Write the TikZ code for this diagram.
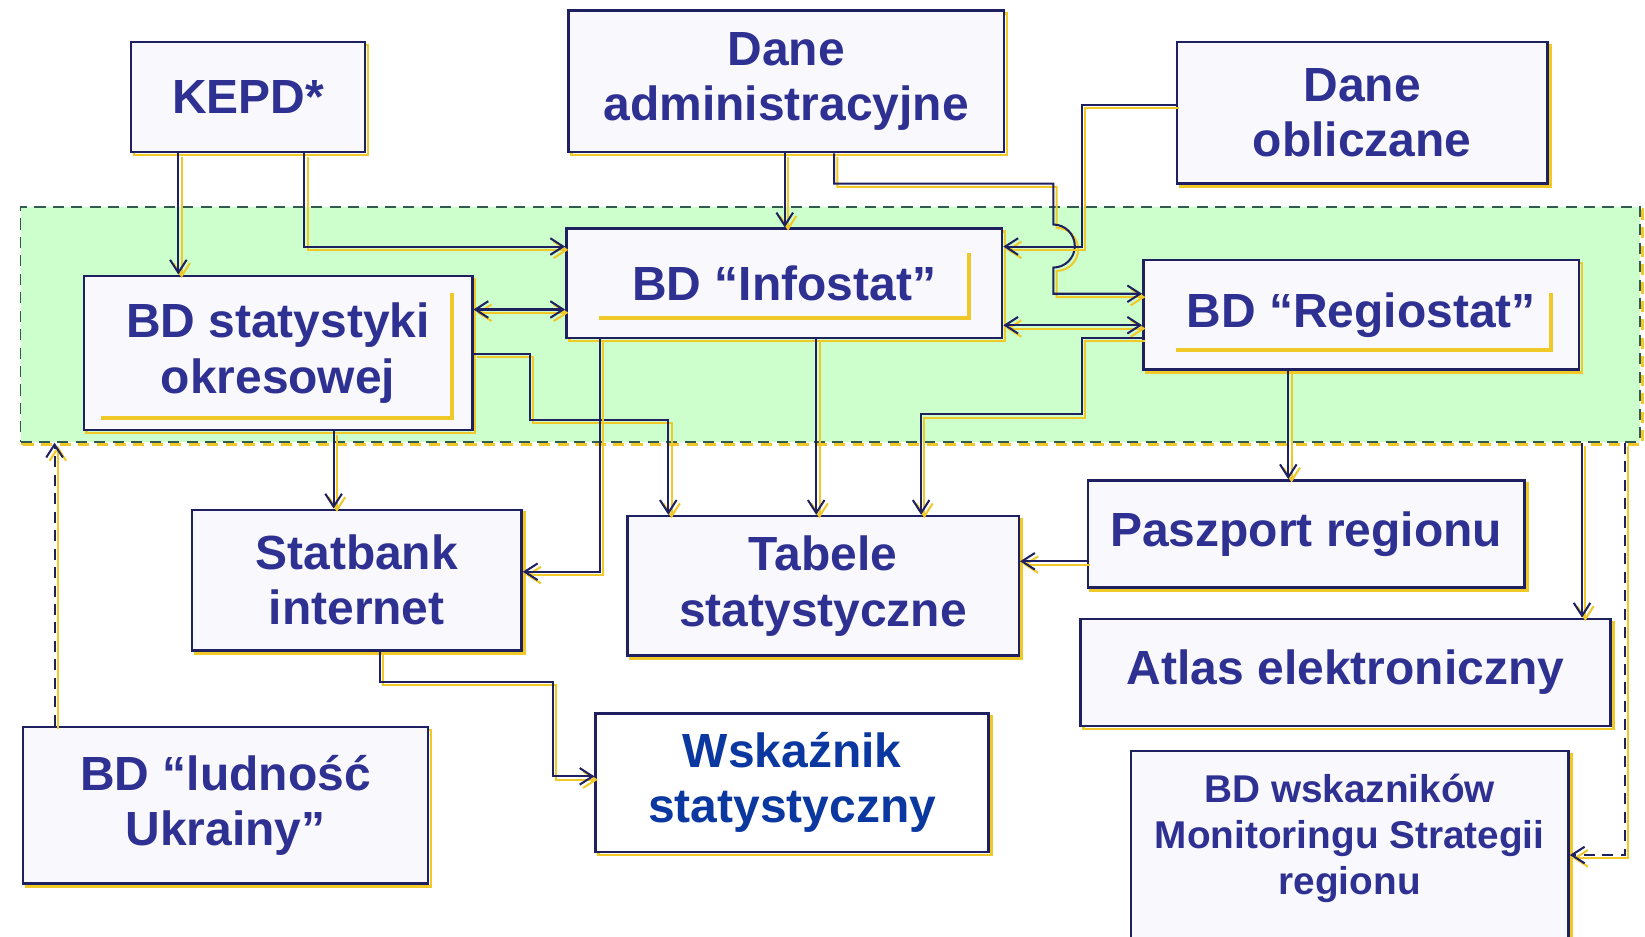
\documentclass[tikz,border=0pt]{standalone}
\usepackage{fontspec}
\setmainfont{Liberation Sans}
\usetikzlibrary{arrows.meta}
\definecolor{navy}{RGB}{30,32,96}
\definecolor{textblue}{RGB}{46,49,146}
\definecolor{brightblue}{RGB}{10,55,160}
\definecolor{shadowyellow}{RGB}{240,200,40}
\definecolor{zonegreen}{RGB}{204,255,204}
\definecolor{zoneline}{RGB}{50,90,80}
\definecolor{boxfill}{RGB}{249,249,253}
\begin{document}
\begin{tikzpicture}
[x=0.01cm,y=-0.01cm,
  >={Straight Barb[length=3.5pt,width=4.5pt]},
  boxdecorate/.style={shape=rectangle,draw=navy,line width=0.7pt,fill=boxfill,
    text=textblue,align=center,inner sep=0pt,
    font=\fontsize{13}{15}\selectfont\bfseries,
    preaction={draw=shadowyellow,fill=none,line width=0.7pt,
      transform canvas={shift={(0.8pt,-0.8pt)}}}},
  zonedecorate/.style={shape=rectangle,draw=zoneline,fill=zonegreen,inner sep=0pt,
    line width=0.5pt,dash pattern=on 3pt off 2pt,
    preaction={draw=shadowyellow,fill=none,line width=0.8pt,
      transform canvas={shift={(0.6pt,-0.8pt)}}}},
  linedecorate/.style={draw=navy,line width=0.55pt,->,
    preaction={draw=shadowyellow,line width=0.55pt,
      transform canvas={shift={(0.9pt,-0.9pt)}}}},
  dashdecorate/.style={linedecorate,dash pattern=on 3pt off 2pt},
  underdecorate/.style={draw=shadowyellow,line width=1.1pt}]
%% page
\fill[white] (0,0) rectangle (1568,893);
\useasboundingbox (0,0) rectangle (1568,893);
%% green area
\node (zone) at (791.5,309) [zonedecorate,minimum width=15.43cm,minimum height=2.24cm] {};
%% boxes
\foreach \nodename/\x/\y/\w/\h/\boxtext in {
  kepd/236.5/92.5/2.23/1.05/{KEPD*},
  daneadm/749.5/77.5/4.15/1.35/{Dane\\administracyjne},
  daneobl/1298.5/107.5/3.53/1.35/{Dane\\obliczane},
  infostat/747.5/270/4.15/1.04/{BD “Infostat”},
  regiostat/1297.5/300/4.15/1.04/{BD “Regiostat”},
  bdstat/265/336.5/3.70/1.47/{BD statystyki\\okresowej},
  statbank/340/553/3.14/1.34/{Statbank\\internet},
  tabele/784.5/558.5/3.73/1.33/{Tabele\\statystyczne},
  paszport/1245/509/4.16/1.02/{Paszport regionu},
  atlas/1282.5/641/5.05/1.02/{Atlas elektroniczny},
  ludnosc/215/767.5/3.86/1.49/{BD “ludność\\Ukrainy”}} {
  \node (\nodename) at (\x,\y) [boxdecorate,minimum width=\w cm,minimum height=\h cm] {\boxtext};
}
\node (wskaznik) at (755,746) [boxdecorate,fill=white,text=brightblue,
  minimum width=3.74cm,minimum height=1.32cm] {Wskaźnik\\statystyczny};
\node (wskazmon) at (1286.5,810.5) [boxdecorate,minimum width=4.17cm,minimum height=1.89cm] {};
\node (wskazmontext) at (1286.5,799) [text=textblue,align=center,
  font=\fontsize{10.5}{12.5}\selectfont\bfseries] {BD wskazników\\Monitoringu Strategii\\regionu};
%% yellow marks inside the databases
\draw[underdecorate] (infostat.south west) ++(32,-20) -- ++(353,0) -- ++(0,-62);
\draw[underdecorate] (regiostat.south west) ++(32,-20) -- ++(358,0) -- ++(0,-54);
\draw[underdecorate] (bdstat.south west) ++(18,-13) -- ++(334,0) -- ++(0,-119);
%% edges or lines
\draw[linedecorate] (kepd.south -| 170,0) -- (bdstat.north -| 170,0);
\draw[linedecorate] (kepd.south -| 290,0) |- (infostat.west |- 0,235);
\draw[linedecorate] (daneadm.south -| 748,0) -- (infostat.north -| 748,0);
\draw[linedecorate] (daneadm.south -| 795,0) |- (1004,175) -- (1004,214)
  arc[start angle=90,end angle=-90,radius=0.205cm] -- (1004,280)
  -- (regiostat.west |- 0,280);
\draw[linedecorate] (daneobl.west |- 0,100) -| (1031,235) -- (infostat.east |- 0,235);
\draw[linedecorate,<->] (bdstat.east |- 0,295) -- (infostat.west |- 0,295);
\draw[linedecorate,<->] (infostat.east |- 0,310) -- (regiostat.west |- 0,310);
\draw[linedecorate] (regiostat.west |- 0,322) -| (1031,395) -| (tabele.north -| 878,0);
\draw[linedecorate] (bdstat.east |- 0,337) -| (505,400) -| (tabele.north -| 637,0);
\draw[linedecorate] (infostat.south -| 778,0) -- (tabele.north -| 778,0);
\draw[linedecorate] (infostat.south -| 572,0) |- (statbank.east |- 0,545);
\draw[linedecorate] (bdstat.south -| 318,0) -- (statbank.north -| 318,0);
\draw[linedecorate] (regiostat.south -| 1228,0) -- (paszport.north -| 1228,0);
\draw[linedecorate] (zone.south -| 1508,0) -- (atlas.north -| 1508,0);
\draw[linedecorate] (paszport.west |- 0,535) -- (tabele.east |- 0,535);
\draw[linedecorate] (statbank.south -| 362,0) |- (527,650) |- (wskaznik.west |- 0,740);
\draw[dashdecorate] (zone.south -| 1549,0) |- (wskazmon.east |- 0,815);
\draw[dashdecorate] (ludnosc.north -| 52,0) -- (zone.south -| 52,0);
\end{tikzpicture}
\end{document}
